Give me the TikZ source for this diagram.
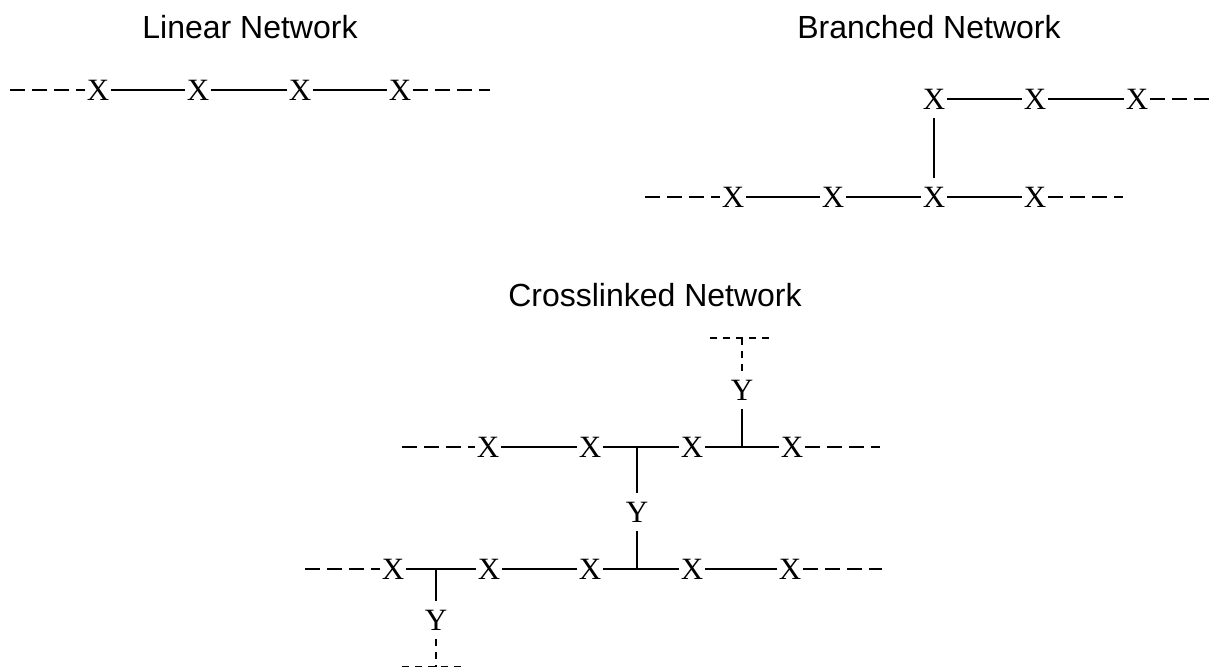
\documentclass[tikz,border=0pt]{standalone}
\usepackage{fontspec}
\setmainfont{Liberation Serif}
\newfontfamily\titlefont{Liberation Sans}
\usepackage{tikz}
\tikzset{
  netUnit/.style={font=\fontsize{31}{37}\selectfont, text height=27.5pt, text depth=7pt, inner sep=1.5pt},
  netLine/.style={line width=1.5pt},
  netDash/.style={line width=1.5pt, dash pattern=on 15pt off 7pt},
  netTail/.style={line width=1.5pt, dash pattern=on 7pt off 6pt},
  netTitle/.style={font=\titlefont\fontsize{32}{38}\selectfont, inner sep=0pt}
}

\begin{document}
\begin{tikzpicture}[x=1pt, y=-1pt]
  \useasboundingbox (0,0) rectangle (1211,668);

  \node[netTitle] (linTitle) at (250,27) {Linear Network};
  \node[netTitle] (brTitle) at (929,27) {Branched Network};
  \node[netTitle] (clTitle) at (655,295) {Crosslinked Network};

  \foreach \i/\x in {1/98,2/198,3/300,4/400}
    \node[netUnit] (l\i) at (\x,90) {X};
  \coordinate (lL) at (10,90);
  \coordinate (lR) at (490,90);
  \draw[netDash] (lL) -- (l1);
  \draw[netLine] (l1) -- (l2) -- (l3) -- (l4);
  \draw[netDash] (l4) -- (lR);

  \foreach \i/\x in {1/934,2/1035,3/1137}
    \node[netUnit] (bt\i) at (\x,99) {X};
  \foreach \i/\x in {1/733,2/833,3/934,4/1035}
    \node[netUnit] (bb\i) at (\x,197) {X};
  \coordinate (btR) at (1211,99);
  \coordinate (bbL) at (645,197);
  \coordinate (bbR) at (1123,197);
  \draw[netLine] (bt1) -- (bt2) -- (bt3);
  \draw[netDash] (bt3) -- (btR);
  \draw[netDash] (bbL) -- (bb1);
  \draw[netLine] (bb1) -- (bb2) -- (bb3) -- (bb4);
  \draw[netDash] (bb4) -- (bbR);
  \draw[netLine] (bt1) -- (bb3);

  \foreach \i/\x in {1/488,2/590,3/692,4/792}
    \node[netUnit] (ca\i) at (\x,447) {X};
  \foreach \i/\x in {1/393,2/489,3/590,4/692,5/790}
    \node[netUnit] (cb\i) at (\x,569) {X};
  \node[netUnit] (yTop) at (742,390) {Y};
  \node[netUnit] (yMid) at (637,512) {Y};
  \node[netUnit] (yBot) at (436,620) {Y};

  \coordinate (caL) at (402,447);
  \coordinate (caR) at (880,447);
  \coordinate (cbL) at (305,569);
  \coordinate (cbR) at (882,569);
  \coordinate (jMidA) at (637,447);
  \coordinate (jTop) at (742,447);
  \coordinate (jBot) at (436,569);
  \coordinate (jMidB) at (637,569);
  \coordinate (tTop) at (742,338);
  \coordinate (tTopL) at (710,338);
  \coordinate (tTopR) at (773,338);
  \coordinate (tBot) at (436,666.5);
  \coordinate (tBotL) at (402,666.5);
  \coordinate (tBotR) at (466,666.5);

  \draw[netDash] (caL) -- (ca1);
  \draw[netLine] (ca1) -- (ca2) -- (jMidA) -- (ca3) -- (jTop) -- (ca4);
  \draw[netDash] (ca4) -- (caR);
  \draw[netDash] (cbL) -- (cb1);
  \draw[netLine] (cb1) -- (jBot) -- (cb2) -- (cb3) -- (jMidB) -- (cb4) -- (cb5);
  \draw[netDash] (cb5) -- (cbR);

  \draw[netLine] (jMidA) -- (yMid);
  \draw[netLine] (yMid) -- (jMidB);
  \draw[netLine] (jTop) -- (yTop);
  \draw[netTail] (yTop) -- (tTop);
  \draw[netTail] (tTopL) -- (tTopR);
  \draw[netLine] (jBot) -- (yBot);
  \draw[netTail] (yBot) -- (tBot);
  \draw[netTail] (tBotL) -- (tBotR);
\end{tikzpicture}
\end{document}
